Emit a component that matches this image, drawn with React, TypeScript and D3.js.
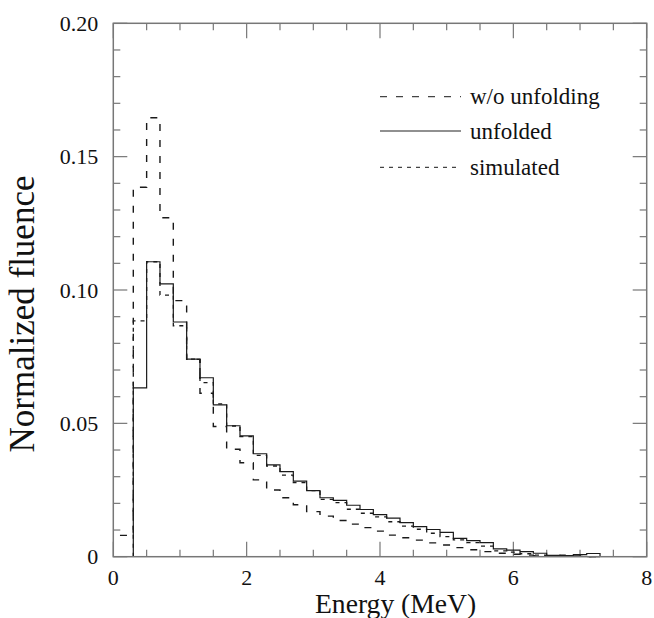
import React from "react";
import * as d3 from "d3";

// bin left edges (MeV), bin width 0.2
const binStarts = [0.1, 0.3, 0.5, 0.7, 0.9, 1.1, 1.3, 1.5, 1.7, 1.9, 2.1, 2.3, 2.5, 2.7, 2.9, 3.1, 3.3, 3.5,
  3.7, 3.9, 4.1, 4.3, 4.5, 4.7, 4.9, 5.1, 5.3, 5.5, 5.7, 5.9, 6.1, 6.3, 6.5, 6.7, 6.9, 7.1];
const binWidth = 0.2;

const woUnfolding = [0.008, 0.1385, 0.1646, 0.1271, 0.096, 0.074, 0.0613, 0.0488, 0.0403, 0.0352, 0.0288, 0.025,
  0.0221, 0.0195, 0.0169, 0.0152, 0.0136, 0.0122, 0.0109, 0.0096, 0.0081, 0.0071, 0.0062, 0.0052, 0.0044, 0.0034,
  0.0026, 0.0019, 0.0013, 0.0009, 0.0006, 0.0004, 0.0002, 0.0006, 0.0003, 0.0];

const unfolded = [0.0, 0.0633, 0.1106, 0.1023, 0.088, 0.0741, 0.0671, 0.0569, 0.0491, 0.0453, 0.0386, 0.0344,
  0.0319, 0.0283, 0.0248, 0.0221, 0.0211, 0.0193, 0.0177, 0.0158, 0.0145, 0.0128, 0.0113, 0.0102, 0.0091, 0.0069,
  0.006, 0.0053, 0.0029, 0.0025, 0.0019, 0.0013, 0.0005, 0.0004, 0.0008, 0.0012];

const simulated = [0.0, 0.0884, 0.1106, 0.0981, 0.0866, 0.0741, 0.0653, 0.0573, 0.049, 0.045, 0.038, 0.034,
  0.0306, 0.0278, 0.0248, 0.0215, 0.0203, 0.0178, 0.0163, 0.0149, 0.0131, 0.0115, 0.0103, 0.0088, 0.0075, 0.0063,
  0.0053, 0.004, 0.0022, 0.0017, 0.0011, 0.0006, 0.0003, 0.0002, 0.0001, 0.0];

const xTickLabels = [0, 2, 4, 6, 8];
const yTickLabels = ["0", "0.05", "0.10", "0.15", "0.20"];
const yTickValues = [0, 0.05, 0.1, 0.15, 0.2];
const xMinorTicks = [0, 0.5, 1, 1.5, 2, 2.5, 3, 3.5, 4, 4.5, 5, 5.5, 6, 6.5, 7, 7.5, 8];
const yMinorTicks = [0, 0.01, 0.02, 0.03, 0.04, 0.05, 0.06, 0.07, 0.08, 0.09, 0.1, 0.11, 0.12, 0.13, 0.14, 0.15,
  0.16, 0.17, 0.18, 0.19, 0.2];

const legendItems = [
  { label: "w/o unfolding", dash: "7,9" },
  { label: "unfolded", dash: "" },
  { label: "simulated", dash: "4,5" },
];

const W = 654;
const H = 618;
const L = 113.3, R = 646.7, T = 23.3, B = 556.7;
const FONT = "'Liberation Serif', 'Times New Roman', serif";

export default function App() {
  const x = d3.scaleLinear().domain([0, 8]).range([L, R]);
  const y = d3.scaleLinear().domain([0, 0.2]).range([B, T]);

  const stepPath = (vals: number[], skipZeroStart: boolean) => {
    const pts: [number, number][] = [];
    let started = false;
    vals.forEach((v, i) => {
      if (!started && skipZeroStart && v === 0) return;
      if (!started) {
        started = true;
        if (skipZeroStart) pts.push([binStarts[i], 0]);
      }
      pts.push([binStarts[i], v]);
    });
    const last = binStarts[binStarts.length - 1] + binWidth;
    pts.push([last, vals[vals.length - 1]]);
    pts.push([last, 0]);
    const line = d3
      .line<[number, number]>()
      .x((d) => x(d[0]))
      .y((d) => y(d[1]))
      .curve(d3.curveStepAfter);
    return line(pts) || "";
  };

  const frameColor = "#777";
  const lineColor = "#1a1a1a";
  const isMajorX = (v: number) => Math.abs(v / 2 - Math.round(v / 2)) < 1e-6;
  const isMajorY = (v: number) => Math.abs(v / 0.05 - Math.round(v / 0.05)) < 1e-6;

  return (
    <svg
      width={W}
      height={H}
      style={{ position: "absolute", left: 0, top: 0, background: "#fff" }}
      fontFamily={FONT}
    >
      <rect x={0} y={0} width={W} height={H} fill="#fff" />
      {/* ticks */}
      {xMinorTicks.map((v, i) => {
        const len = isMajorX(v) ? 15 : 7;
        return (
          <g key={"xt" + i} stroke={frameColor} strokeWidth={1.2}>
            <line x1={x(v)} x2={x(v)} y1={B} y2={B - len} />
            <line x1={x(v)} x2={x(v)} y1={T} y2={T + len} />
          </g>
        );
      })}
      {yMinorTicks.map((v, i) => {
        const len = isMajorY(v) ? 14 : 7;
        return (
          <g key={"yt" + i} stroke={frameColor} strokeWidth={1.2}>
            <line x1={L} x2={L + len} y1={y(v)} y2={y(v)} />
            <line x1={R} x2={R - len} y1={y(v)} y2={y(v)} />
          </g>
        );
      })}
      {/* data */}
      <path d={stepPath(simulated, true)} fill="none" stroke={lineColor} strokeWidth={1.3} strokeDasharray="4,5" />
      <path d={stepPath(unfolded, true)} fill="none" stroke={lineColor} strokeWidth={1.2} />
      <path d={stepPath(woUnfolding, false)} fill="none" stroke={lineColor} strokeWidth={1.4} strokeDasharray="7,9" />
      {/* frame */}
      <rect x={L} y={T} width={R - L} height={B - T} fill="none" stroke={frameColor} strokeWidth={1.5} />
      {/* tick labels */}
      {yTickValues.map((v, i) => (
        <text key={"yl" + i} x={L - 15} y={y(v) + 7.5} fontSize={22} textAnchor="end" fill="#111">
          {yTickLabels[i]}
        </text>
      ))}
      {xTickLabels.map((v, i) => (
        <text key={"xl" + i} x={x(v)} y={584.5} fontSize={22} textAnchor="middle" fill="#111">
          {v}
        </text>
      ))}
      {/* axis titles */}
      <text x={315} y={613.3} fontSize={27.6} fill="#111">
        Energy (MeV)
      </text>
      <text
        transform={`translate(34, 314) rotate(-90)`}
        fontSize={35}
        textAnchor="middle"
        fill="#111"
      >
        Normalized fluence
      </text>
      {/* legend */}
      {legendItems.map((d, i) => {
        const ly = [96.7, 131, 167.3][i];
        return (
          <g key={"lg" + i}>
            <line
              x1={380}
              x2={461}
              y1={ly}
              y2={ly}
              stroke={d.dash ? "#444" : "#222"}
              strokeWidth={1.2}
              strokeDasharray={d.dash || undefined}
            />
            <text x={470} y={ly + 7.5} fontSize={23} fill="#111">
              {d.label}
            </text>
          </g>
        );
      })}
    </svg>
  );
}
